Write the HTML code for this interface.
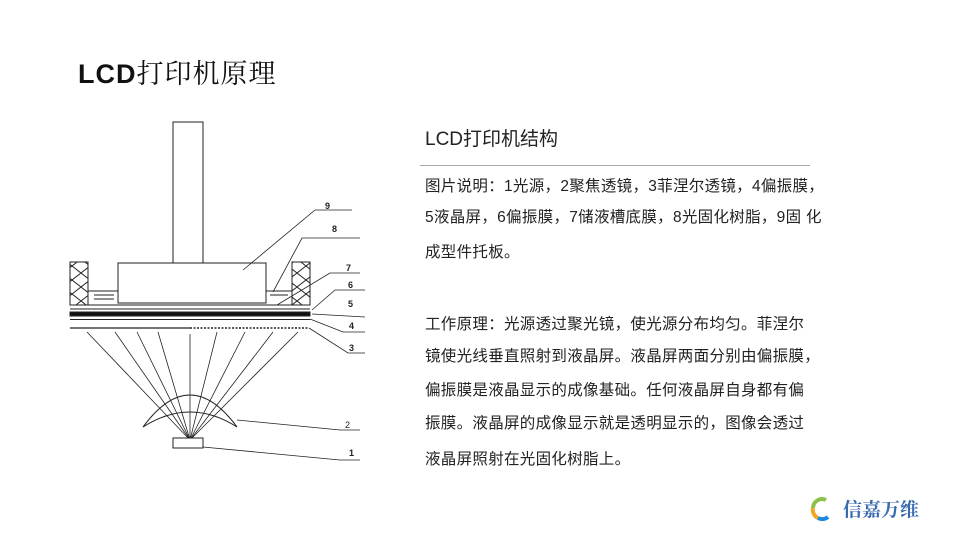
<!DOCTYPE html>
<html><head><meta charset="utf-8"><style>
body{margin:0;background:#fff;}
#p{position:relative;width:960px;height:540px;overflow:hidden;font-family:"Liberation Sans","Noto Sans CJK SC",sans-serif;color:#222;}
.t{position:absolute;white-space:nowrap;font-size:15.5px;letter-spacing:0.3px;line-height:20px;}
</style></head><body><div id="p">
<div class="t" style="left:78px;top:55px;font-size:27px;line-height:34px;color:#111;letter-spacing:1px;"><b>LCD</b><span style="font-family:'Noto Serif CJK SC',serif;">打印机原理</span></div>
<div class="t" style="left:425px;top:128px;font-size:19px;line-height:24px;letter-spacing:0;">LCD打印机结构</div>
<div style="position:absolute;left:420px;top:165px;width:390px;height:1px;background:#aaa;"></div>
<div class="t" style="left:425px;top:177px;">图片说明：1光源，2聚焦透镜，3菲涅尔透镜，4偏振膜，</div>
<div class="t" style="left:425px;top:208px;">5液晶屏，6偏振膜，7储液槽底膜，8光固化树脂，9固 化</div>
<div class="t" style="left:425px;top:243px;">成型件托板。</div>
<div class="t" style="left:425px;top:315px;">工作原理：光源透过聚光镜，使光源分布均匀。菲涅尔</div>
<div class="t" style="left:425px;top:347px;">镜使光线垂直照射到液晶屏。液晶屏两面分别由偏振膜，</div>
<div class="t" style="left:425px;top:381px;">偏振膜是液晶显示的成像基础。任何液晶屏自身都有偏</div>
<div class="t" style="left:425px;top:414px;">振膜。液晶屏的成像显示就是透明显示的，图像会透过</div>
<div class="t" style="left:425px;top:450px;">液晶屏照射在光固化树脂上。</div>
<svg width="960" height="540" style="position:absolute;left:0;top:0" font-family="Liberation Sans, sans-serif">
<defs><pattern id="h" width="18" height="14" patternUnits="userSpaceOnUse"><path d="M0 0L9 7L0 14M18 0L9 7L18 14" stroke="#222" fill="none" stroke-width="1"/></pattern></defs>
<g stroke="#222" fill="none" stroke-width="1">
<rect x="173" y="122" width="30" height="141" fill="#fff"/>
<rect x="118" y="263" width="148" height="40" fill="#fff"/>
<rect x="70" y="262" width="18" height="43" fill="url(#h)"/>
<rect x="292" y="262" width="18" height="43" fill="url(#h)"/>
<line x1="88" y1="291" x2="118" y2="291"/><line x1="94" y1="295" x2="114" y2="295"/><line x1="94" y1="299" x2="114" y2="299"/>
<line x1="266" y1="291" x2="292" y2="291"/><line x1="270" y1="295" x2="288" y2="295"/>
<line x1="70" y1="305" x2="310" y2="305"/>
<line x1="70" y1="309" x2="310" y2="309"/>
<rect x="70" y="312" width="240" height="4" fill="#111"/>
<line x1="70" y1="319.5" x2="310" y2="319.5"/>
<line x1="70" y1="328" x2="190" y2="328" stroke-width="1.2"/>
<line x1="190" y1="328" x2="308" y2="328" stroke-dasharray="2 1.5" stroke-width="1.5"/>
<g stroke-width="0.8">
<line x1="87" y1="332" x2="190" y2="440"/><line x1="115" y1="332" x2="190" y2="440"/><line x1="137" y1="332" x2="190" y2="440"/><line x1="158" y1="332" x2="190" y2="440"/><line x1="190" y1="334" x2="190" y2="440"/><line x1="217" y1="332" x2="190" y2="440"/><line x1="245" y1="332" x2="190" y2="440"/><line x1="273" y1="332" x2="190" y2="440"/><line x1="298" y1="332" x2="190" y2="440"/>
</g>
<path d="M143 427Q190 363 237 427"/>
<path d="M143 427Q190 397 237 427"/>
<rect x="173" y="438" width="30" height="10" fill="#fff"/>
<g stroke-width="0.8">
<polyline points="243,270 315,210 352,210"/>
<polyline points="273,292 302,238 360,238"/>
<polyline points="277,305 330,273 360,273"/>
<polyline points="312,310 335,290 365,290"/>
<polyline points="312,314 365,317"/>
<polyline points="310,319 343,332 365,332"/>
<polyline points="309,328 348,353 365,353"/>
<polyline points="237,420 340,430 360,430"/>
<polyline points="203,447 340,460 360,460"/>
</g>
</g>
<g font-size="9" fill="#222" font-weight="bold">
<text x="325" y="209">9</text><text x="332" y="232">8</text><text x="346" y="271">7</text><text x="348" y="288">6</text><text x="348" y="307">5</text><text x="349" y="329">4</text><text x="349" y="351">3</text>
<text x="345" y="428" font-weight="normal">2</text><text x="349" y="456">1</text>
</g>
<g fill="none" stroke-width="4">
<path d="M826 500A9 9 0 0 0 813 508" stroke="#8bc34a"/>
<path d="M813 508A9 9 0 0 0 818 518" stroke="#f5a623"/>
<path d="M818 518A9 9 0 0 0 828 517" stroke="#1e88e5"/>
</g>
<text x="843" y="516" font-size="19" font-weight="bold" fill="#3a6ab0" font-family="Noto Serif CJK SC, serif">信嘉万维</text>
</svg>
</div></body></html>
